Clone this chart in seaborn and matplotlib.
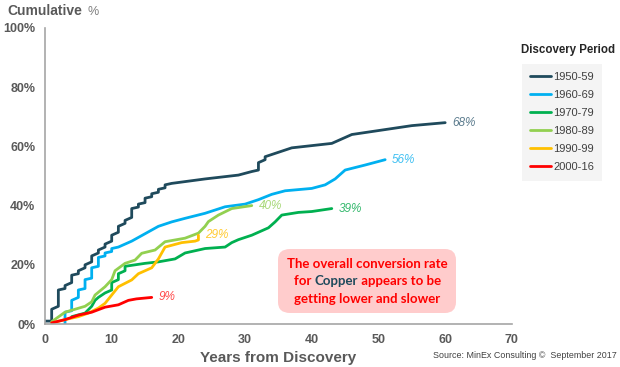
import pandas as pd
import matplotlib
matplotlib.use("Agg")
import matplotlib.pyplot as plt
import seaborn as sns
from matplotlib.offsetbox import TextArea, HPacker, VPacker, AnnotationBbox

# cumulative conversion (%) by years from discovery
yr_5059 = [0, 1, 1, 2, 2, 3, 3, 4, 4, 5, 5, 6, 6, 7, 7, 8, 8, 9, 9, 10, 10, 11, 11, 12, 12, 13, 13,
           14, 14, 15, 15, 16, 16, 17, 17, 18, 18, 19, 24, 29, 31, 32, 32, 33, 33, 35, 37, 41, 43, 46, 52, 55, 60]
pc_5059 = [1, 1, 5, 6, 11.5, 12, 13, 14, 16.5, 17, 18, 19, 20, 21, 23, 24, 25, 26, 27, 28, 30, 31, 33, 34, 35, 36, 39,
           39.5, 40.5, 41, 42.5, 43, 44, 44.5, 45.5, 46, 47, 47.5, 49, 50.3, 51.5, 52, 54.5, 55.5, 56.5, 58, 59.5, 60.5, 61, 64, 66, 67, 68]
yr_6069 = [3, 3, 4, 4, 5, 5, 6, 6, 7, 7, 8, 8, 9, 9, 10, 10, 11, 13, 15, 17, 19, 21, 24, 27, 30, 32, 34, 36, 40, 42, 43.5, 45, 48, 51]
pc_6069 = [0, 4, 4.5, 8, 9, 11.5, 12, 15, 15.5, 19, 19.5, 22.5, 23, 24, 24.5, 25.5, 26, 28, 30.5, 33, 34.5, 35.7, 37.4, 39.6,
           40.5, 42, 43.8, 45, 45.8, 47, 49, 52, 53.7, 55.5]
yr_7079 = [4, 6, 7, 7.5, 8, 9, 10, 10, 11, 11, 12, 12, 15, 17, 19.5, 21, 24, 27, 28, 29, 31, 32, 33.5, 34.5, 35.5, 38, 40, 43]
pc_7079 = [2.5, 3.7, 6, 8, 9, 10.5, 11.5, 14, 15, 17, 18, 19.5, 20.5, 21, 22, 24, 25.5, 26, 27.5, 28.5, 30, 31, 32.5, 34.5, 36.8, 37.7, 38, 39]
yr_8089 = [1, 3, 6, 7, 7.5, 9, 10, 10.5, 12, 13.5, 14.5, 16.5, 18, 21, 23, 24, 24.5, 26, 28, 31]
pc_8089 = [0.8, 4, 6, 7.5, 9.8, 12.6, 15, 18, 20.5, 21.6, 23.9, 25, 27.8, 29, 30.7, 33, 34.6, 36.8, 39, 40]
yr_9099 = [1, 3, 5, 6.5, 8, 9, 10, 11, 13, 14, 16, 17, 18, 20.5, 22.5, 23, 23]
pc_9099 = [0.4, 1.5, 2.5, 3.7, 5.4, 7, 9.8, 12.6, 14.9, 17, 19, 22, 26, 27.5, 28, 28.4, 30]
yr_0016 = [1, 3, 5, 7, 9, 11, 12.5, 13.7, 16]
pc_0016 = [0.4, 1.5, 3, 4, 5.7, 6.5, 8, 8.5, 9]

periods = ["1950-59", "1960-69", "1970-79", "1980-89", "1990-99", "2000-16"]
end_labels = ["68%", "56%", "39%", "40%", "29%", "9%"]
line_colors = ["#1F4A5C", "#00B0F0", "#00B050", "#92D050", "#FFC000", "#FF0000"]
label_colors = ["#5C7C8E", "#40C0F2", "#33B86C", "#A8D878", "#FFCB33", "#FF4B4B"]

series = [(yr_5059, pc_5059), (yr_6069, pc_6069), (yr_7079, pc_7079),
          (yr_8089, pc_8089), (yr_9099, pc_9099), (yr_0016, pc_0016)]

frames = []
for name, (xs, ys) in zip(periods, series):
    frames.append(pd.DataFrame({"year": xs, "pct": ys, "period": name}))
df = pd.concat(frames, ignore_index=True)

sns.set_style("white")
plt.rcParams["font.family"] = ["Liberation Sans", "DejaVu Sans"]

grey = "#595959"
axis_grey = "#A6A6A6"

fig = plt.figure(figsize=(6.2, 3.67), dpi=100)
ax = fig.add_axes([0.0726, 0.117, 0.753, 0.807])

sns.lineplot(data=df, x="year", y="pct", hue="period", hue_order=periods,
             palette=line_colors, estimator=None, sort=False, linewidth=2.0, ax=ax, legend=True)

for (xs, ys), lab, col in zip(series, end_labels, label_colors):
    ax.annotate(lab, (xs[-1], ys[-1]), xytext=(5, 0), textcoords="offset points",
                va="center", ha="left", fontsize=8.5, style="italic", color=col)

ax.set_xlim(0, 70)
ax.set_ylim(0, 100)
ax.set_xticks(range(0, 71, 10))
ax.set_yticks(range(0, 101, 20))
ax.set_yticks(range(10, 100, 20), minor=True)
ax.set_yticklabels([f"{v}%" for v in range(0, 101, 20)])
for s in ["top", "right"]:
    ax.spines[s].set_visible(False)
for s in ["left", "bottom"]:
    ax.spines[s].set_color(axis_grey)
    ax.spines[s].set_linewidth(1.2)
ax.tick_params(axis="both", which="major", direction="out", length=4, width=1, color=axis_grey,
               labelsize=9, labelcolor=grey, pad=3)
ax.tick_params(axis="y", which="minor", direction="out", length=3, width=1, color=axis_grey)
for t in ax.get_xticklabels() + ax.get_yticklabels():
    t.set_fontweight("bold")

ax.set_xlabel("Years from Discovery", fontsize=11, fontweight="bold", color=grey, labelpad=4)
ax.set_ylabel("")

fig.text(7 / 620, 1 - 11 / 367, "Cumulative", fontsize=10, fontweight="bold", color=grey, va="center")
fig.text(87 / 620, 1 - 12 / 367, "%", fontsize=9, color="#7F7F7F", va="center")

handles, labels = ax.get_legend_handles_labels()
ax.legend_.remove()
leg = fig.legend(handles, labels, loc="upper left", bbox_to_anchor=(522 / 620, 1 - 64 / 367),
                 frameon=True, fancybox=False, handlelength=1.9, handletextpad=0.15,
                 labelspacing=0.72, borderpad=0.75, borderaxespad=0, prop={"size": 8})
leg.get_frame().set_facecolor("#F2F2F2")
leg.get_frame().set_edgecolor("none")
for t in leg.get_texts():
    t.set_color("#404040")
for h in leg.legend_handles:
    h.set_linewidth(2.0)
fig.text(521 / 620, 1 - 50 / 367, "Discovery Period", fontsize=8.3, fontweight="bold",
         color="#262626", va="center")

# callout box
red = "#FF0000"
dark = "#1F4A5C"
tp = {"fontsize": 9.5, "fontweight": "bold", "family": ["Lato", "DejaVu Sans"]}
line1 = TextArea("The overall conversion rate", textprops={**tp, "color": red})
line2 = HPacker(children=[TextArea("for ", textprops={**tp, "color": red}),
                          TextArea("Copper", textprops={**tp, "color": dark}),
                          TextArea(" appears to be", textprops={**tp, "color": red})],
                align="baseline", pad=0, sep=0)
line3 = TextArea("getting lower and slower", textprops={**tp, "color": red})
box = VPacker(children=[line1, line2, line3], align="center", pad=0, sep=4)
ab = AnnotationBbox(box, (48.3, 14.5), xycoords="data", frameon=True, pad=0.6,
                    bboxprops={"boxstyle": "round,pad=0.6,rounding_size=0.8",
                               "facecolor": "#FFCCCC", "edgecolor": "none"})
ax.add_artist(ab)

fig.text(0.995, 0.02, "Source: MinEx Consulting \u00a9  September 2017", ha="right", va="bottom",
         fontsize=6.4, color="#404040")

fig.savefig("out.png", dpi=100)
